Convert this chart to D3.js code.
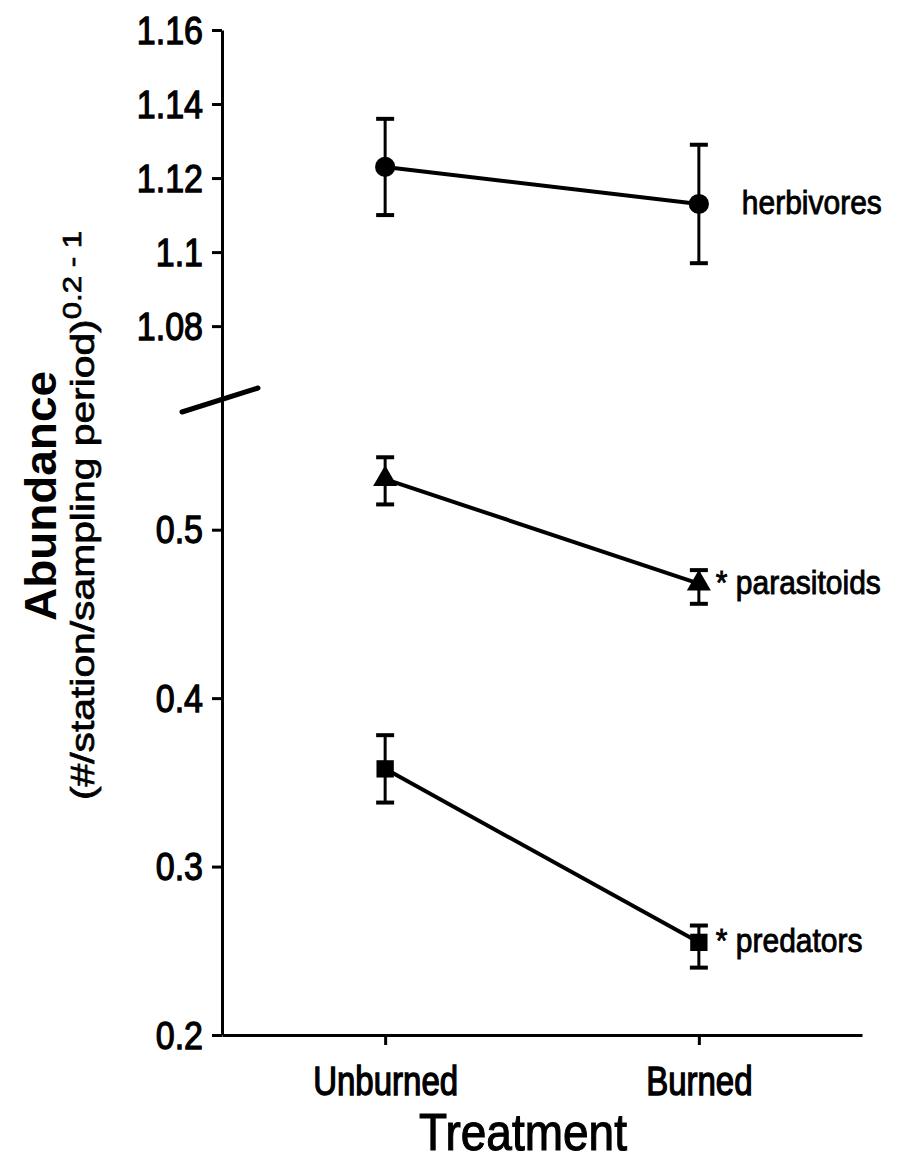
<!DOCTYPE html>
<html>
<head>
<meta charset="utf-8">
<script src="https://cdn.jsdelivr.net/npm/d3@7"></script>
<style>
  body { margin: 0; background: #fff; }
  svg { display: block; }
  text { font-family: Arial, "Liberation Sans", sans-serif; fill: #000; }
</style>
</head>
<body>
<div id="canvas"></div>
<script>
// values
const treatments = ['Unburned', 'Burned'];
const seriesNames = ['herbivores', 'parasitoids', 'predators'];
const seriesLabels = ['herbivores', '* parasitoids', '* predators'];
const herbMean = [1.123, 1.113];
const herbUpper = [1.136, 1.129];
const herbLower = [1.110, 1.097];
const paraMean = [0.530, 0.468];
const paraUpper = [0.543, 0.476];
const paraLower = [0.515, 0.456];
const predMean = [0.358, 0.255];
const predUpper = [0.378, 0.265];
const predLower = [0.338, 0.240];
const topTicks = [1.08, 1.1, 1.12, 1.14, 1.16];
const bottomTicks = [0.2, 0.3, 0.4, 0.5];

const width = 899, height = 1164;
const axisX = 222;
const stretch = 1.24; // the scanned figure is taller than wide

const svg = d3.select('#canvas')
    .append('svg')
    .attr('width', width)
    .attr('height', height);

const x = d3.scalePoint()
    .domain(treatments)
    .range([axisX, 862])
    .padding(0.52);

// broken y axis: two linear pieces
const yTop = d3.scaleLinear().domain([1.0595, 1.16]).range([402, 30]);
const yBottom = d3.scaleLinear().domain([0.2, 0.577]).range([1035, 400]);

function styleAxis(g) {
    g.selectAll('path, line').attr('stroke', '#000').attr('stroke-width', 3);
    g.selectAll('text')
        .attr('font-size', 34)
        .attr('stroke', '#000')
        .attr('stroke-width', 1.1);
}

const leftTop = svg.append('g')
    .attr('transform', `translate(${axisX},0)`)
    .call(d3.axisLeft(yTop).tickValues(topTicks).tickSize(10).tickSizeOuter(0)
        .tickPadding(9).tickFormat(d => String(d)));
leftTop.call(styleAxis);

const leftBottom = svg.append('g')
    .attr('transform', `translate(${axisX},0)`)
    .call(d3.axisLeft(yBottom).tickValues(bottomTicks).tickSize(10).tickSizeOuter(0)
        .tickPadding(9).tickFormat(d => String(d)));
leftBottom.call(styleAxis);

svg.selectAll('.tick text')
    .attr('transform', `scale(1,${stretch * 0.92})`)
    .attr('dy', '0.34em');

const bottomAxis = svg.append('g')
    .attr('transform', `translate(0,${yBottom(0.2)})`)
    .call(d3.axisBottom(x).tickSize(10).tickSizeOuter(0));
bottomAxis.call(styleAxis);
bottomAxis.selectAll('text')
    .attr('font-size', 33)
    .attr('dy', 0)
    .attr('y', 60 / stretch)
    .attr('transform', `scale(1,${stretch})`);

// axis break mark
svg.append('line')
    .attr('x1', axisX - 40).attr('y1', yBottom(0.577) + 12)
    .attr('x2', axisX + 36).attr('y2', yBottom(0.577) - 12)
    .attr('stroke', '#000')
    .attr('stroke-width', 5)
    .attr('stroke-linecap', 'round');

const series = [
    { name: 'herbivores', mean: herbMean, upper: herbUpper, lower: herbLower, y: yTop, symbol: d3.symbolCircle, size: 320 },
    { name: 'parasitoids', mean: paraMean, upper: paraUpper, lower: paraLower, y: yBottom, symbol: d3.symbolTriangle, size: 250 },
    { name: 'predators', mean: predMean, upper: predUpper, lower: predLower, y: yBottom, symbol: d3.symbolSquare, size: 300 }
];

series.forEach((s, i) => {
    const pts = treatments.map((t, j) => ({ t, m: s.mean[j], hi: s.upper[j], lo: s.lower[j] }));
    const g = svg.append('g').attr('class', s.name);

    // error bars
    g.selectAll('.err')
        .data(pts)
        .enter()
        .append('line')
        .attr('x1', d => x(d.t)).attr('x2', d => x(d.t))
        .attr('y1', d => s.y(d.hi)).attr('y2', d => s.y(d.lo))
        .attr('stroke', '#000').attr('stroke-width', 3);
    ['hi', 'lo'].forEach(k => {
        g.selectAll('.cap-' + k)
            .data(pts)
            .enter()
            .append('line')
            .attr('x1', d => x(d.t) - 9).attr('x2', d => x(d.t) + 9)
            .attr('y1', d => s.y(d[k])).attr('y2', d => s.y(d[k]))
            .attr('stroke', '#000').attr('stroke-width', 4);
    });

    g.append('path')
        .datum(pts)
        .attr('d', d3.line().x(d => x(d.t)).y(d => s.y(d.m)))
        .attr('fill', 'none')
        .attr('stroke', '#000')
        .attr('stroke-width', 4);

    g.selectAll('.marker')
        .data(pts)
        .enter()
        .append('path')
        .attr('d', d3.symbol().type(s.symbol).size(s.size))
        .attr('transform', d => `translate(${x(d.t)},${s.y(d.m)})`)
        .attr('fill', '#000');

    const last = pts[pts.length - 1];
    svg.append('text')
        .attr('transform', `translate(${x(last.t) + (i === 0 ? 43 : 17)},${s.y(last.m) + 10}) scale(1,${stretch * 0.9})`)
        .attr('font-size', 30)
        .attr('stroke', '#000')
        .attr('stroke-width', 0.8)
        .text(seriesLabels[i]);
});

// axis titles
svg.append('text')
    .attr('transform', `translate(523,1150) scale(1,1.12)`)
    .attr('text-anchor', 'middle')
    .attr('font-size', 46)
    .attr('stroke', '#000')
    .attr('stroke-width', 1)
    .text('Treatment');

svg.append('text')
    .attr('transform', `translate(56,496) rotate(-90) scale(1.02,1)`)
    .attr('text-anchor', 'middle')
    .attr('font-size', 45)
    .attr('font-weight', 'bold')
    .text('Abundance');

const sub = svg.append('text')
    .attr('transform', `translate(94,800) rotate(-90) scale(1.2,1)`)
    .attr('font-size', 34)
    .attr('stroke', '#000')
    .attr('stroke-width', 0.7);
sub.append('tspan').text('(#/station/sampling period)');
sub.append('tspan').attr('font-size', 26).attr('dy', -13).text('0.2');
sub.append('tspan').attr('font-size', 26).text(' - 1');
</script>
</body>
</html>
